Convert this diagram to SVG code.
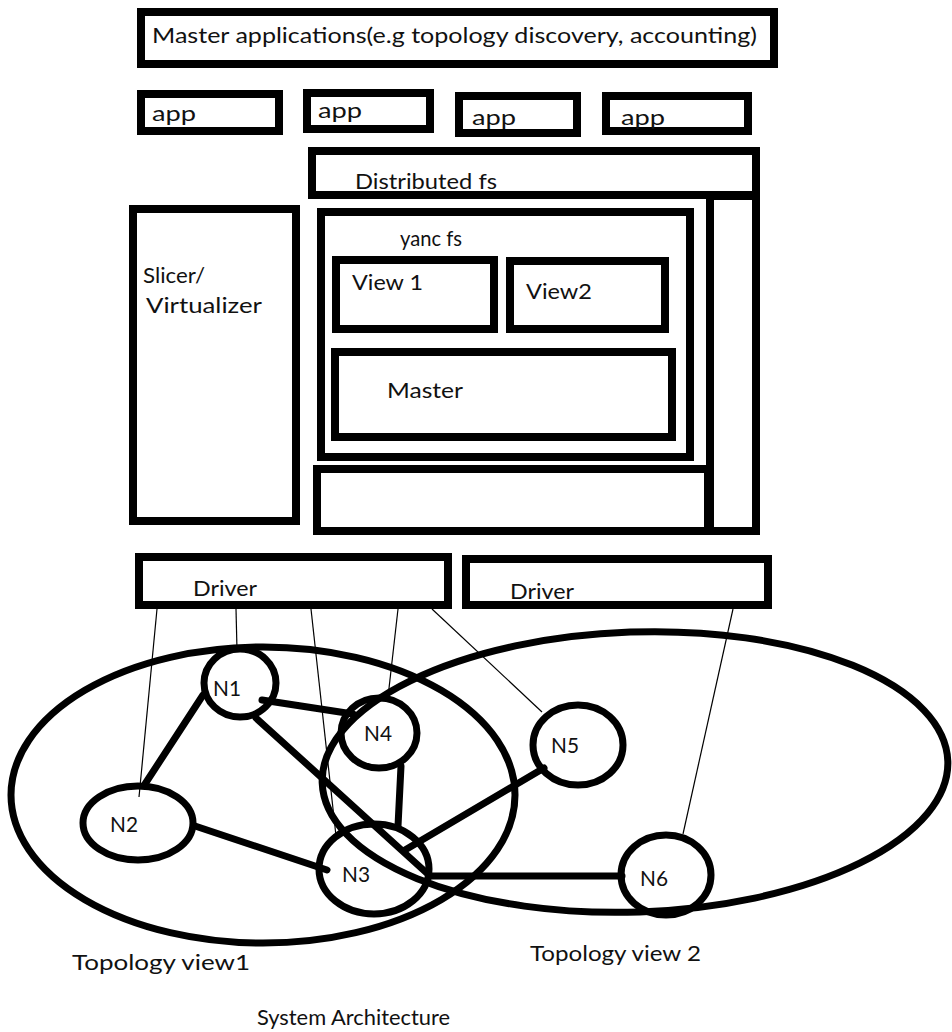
<svg xmlns="http://www.w3.org/2000/svg" width="952" height="1032" viewBox="0 0 952 1032">
<style>
.box{fill:#fff;stroke:#000;stroke-width:8}
.nd{fill:none;stroke:#000;stroke-width:7}
.ell{fill:none;stroke:#000;stroke-width:7}
.edge{stroke:#000;stroke-width:7;fill:none;stroke-linecap:round}
.thin{stroke:#000;stroke-width:1.2;fill:none}
text{font-family:Lato,"Open Sans","Liberation Sans",sans-serif;font-size:21px;fill:#111}
</style>
<rect width="952" height="1032" fill="#fff"/>
<g id="master-apps"><rect class="box" x="141" y="12" width="633" height="52"/><text x="152" y="43" textLength="605" lengthAdjust="spacingAndGlyphs">Master applications(e.g topology discovery, accounting)</text></g>
<g id="app1"><rect class="box" x="141" y="94" width="138" height="37"/><text x="152" y="121" textLength="44" lengthAdjust="spacingAndGlyphs">app</text></g>
<g id="app2"><rect class="box" x="307" y="93" width="123" height="36"/><text x="318" y="118" textLength="44" lengthAdjust="spacingAndGlyphs">app</text></g>
<g id="app3"><rect class="box" x="459" y="96" width="118" height="37"/><text x="472" y="125" textLength="44" lengthAdjust="spacingAndGlyphs">app</text></g>
<g id="app4"><rect class="box" x="606" y="96" width="142" height="35"/><text x="621" y="125" textLength="44" lengthAdjust="spacingAndGlyphs">app</text></g>
<g id="right-bar"><rect class="box" x="710" y="196" width="46" height="335"/></g>
<g id="distributed-fs"><rect class="box" x="312" y="151" width="444" height="44"/><text x="355" y="189" textLength="142" lengthAdjust="spacingAndGlyphs">Distributed fs</text></g>
<g id="slicer"><rect class="box" x="133" y="209" width="163" height="312"/><text x="143" y="283" textLength="62" lengthAdjust="spacingAndGlyphs">Slicer/</text><text x="146" y="313" textLength="116" lengthAdjust="spacingAndGlyphs">Virtualizer</text></g>
<g id="yanc-fs"><rect class="box" x="321" y="212" width="369" height="245"/><text x="400" y="246" textLength="62" lengthAdjust="spacingAndGlyphs">yanc fs</text></g>
<g id="view1"><rect class="box" x="336" y="260" width="158" height="69"/><text x="352" y="290" textLength="71" lengthAdjust="spacingAndGlyphs">View 1</text></g>
<g id="view2"><rect class="box" x="510" y="261" width="155" height="68"/><text x="526" y="299" textLength="66" lengthAdjust="spacingAndGlyphs">View2</text></g>
<g id="master"><rect class="box" x="335" y="352" width="337" height="85"/><text x="387" y="398" textLength="76" lengthAdjust="spacingAndGlyphs">Master</text></g>
<g id="bottom-box"><rect class="box" x="317" y="469" width="391" height="62"/></g>
<g id="driver1"><rect class="box" x="139" y="557" width="309" height="48"/><text x="193" y="596" textLength="64" lengthAdjust="spacingAndGlyphs">Driver</text></g>
<g id="driver2"><rect class="box" x="466" y="559" width="302" height="46"/><text x="510" y="599" textLength="64" lengthAdjust="spacingAndGlyphs">Driver</text></g>
<g id="topology-view1"><ellipse class="ell" cx="263" cy="795" rx="252" ry="148"/><text x="72" y="970" textLength="178" lengthAdjust="spacingAndGlyphs">Topology view1</text></g>
<g id="topology-view2"><ellipse class="ell" cx="635" cy="772" rx="313" ry="140" transform="rotate(-2 635 772)"/><text x="530" y="961" textLength="171" lengthAdjust="spacingAndGlyphs">Topology view 2</text></g>
<g id="connectors">
<line class="edge" x1="203" y1="695" x2="145" y2="784"/>
<line class="edge" x1="262" y1="700" x2="353" y2="714"/>
<line class="edge" x1="256" y1="718" x2="430" y2="876"/>
<line class="edge" x1="401" y1="766" x2="398" y2="826"/>
<line class="edge" x1="195" y1="826" x2="327" y2="870"/>
<line class="edge" x1="405" y1="850" x2="544" y2="768"/>
<line class="edge" x1="430" y1="876" x2="622" y2="876"/>
<line class="thin" x1="157" y1="609" x2="139" y2="797"/>
<line class="thin" x1="236" y1="609" x2="237" y2="650"/>
<line class="thin" x1="311" y1="609" x2="336" y2="836"/>
<line class="thin" x1="398" y1="609" x2="388" y2="697"/>
<line class="thin" x1="432" y1="609" x2="542" y2="712"/>
<line class="thin" x1="733" y1="609" x2="683" y2="834"/>
</g>
<g id="N1"><ellipse class="nd" cx="240" cy="683" rx="36" ry="34"/><text x="213" y="696" textLength="28" lengthAdjust="spacingAndGlyphs">N1</text></g>
<g id="N4"><ellipse class="nd" cx="379" cy="733" rx="38" ry="35"/><text x="364" y="741" textLength="28" lengthAdjust="spacingAndGlyphs">N4</text></g>
<g id="N5"><ellipse class="nd" cx="578" cy="745" rx="45" ry="40"/><text x="551" y="753" textLength="28" lengthAdjust="spacingAndGlyphs">N5</text></g>
<g id="N2"><ellipse class="nd" cx="138" cy="823" rx="55" ry="37"/><text x="110" y="832" textLength="28" lengthAdjust="spacingAndGlyphs">N2</text></g>
<g id="N3"><ellipse class="nd" cx="374" cy="869" rx="55" ry="45"/><text x="342" y="882" textLength="28" lengthAdjust="spacingAndGlyphs">N3</text></g>
<g id="N6"><ellipse class="nd" cx="666" cy="875" rx="45" ry="40"/><text x="640" y="886" textLength="28" lengthAdjust="spacingAndGlyphs">N6</text></g>
<g id="caption"><text x="257" y="1025" textLength="193" lengthAdjust="spacingAndGlyphs">System Architecture</text></g>
</svg>
